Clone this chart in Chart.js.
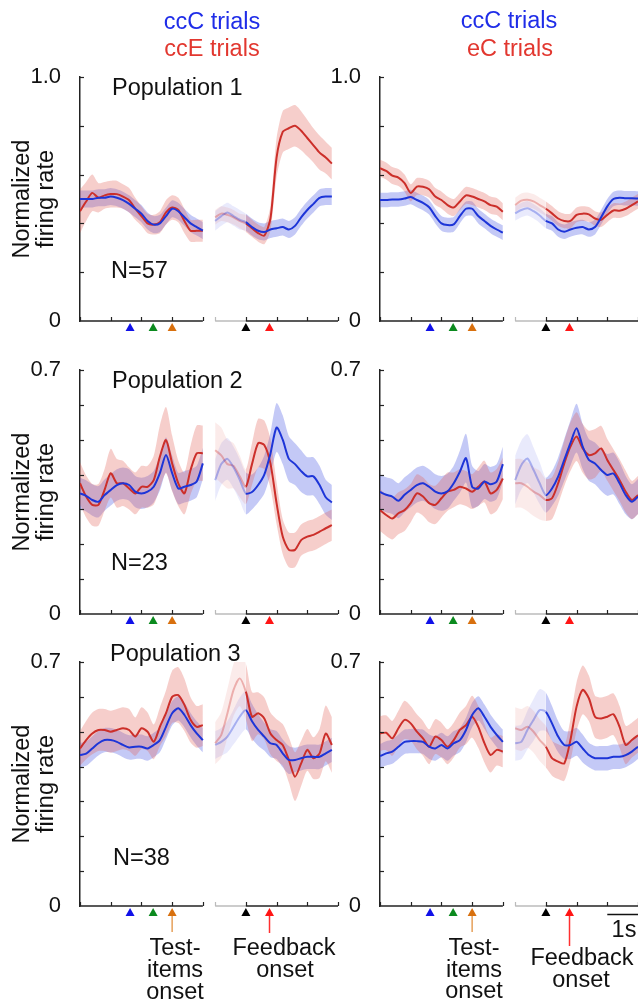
<!DOCTYPE html>
<html><head><meta charset="utf-8">
<script src="https://cdn.jsdelivr.net/npm/chart.js@4.4.0/dist/chart.umd.min.js"></script>
<style>
html,body{margin:0;padding:0;background:#fff}
body{width:638px;height:1003px;position:relative;overflow:hidden}
canvas{position:absolute}
svg{position:absolute;left:0;top:0}
svg text{font-family:"Liberation Sans",Arial,Helvetica,sans-serif;font-size:23.5px;fill:#111}
</style></head><body>
<canvas id="c1L" width="345" height="300" style="left:0;top:49px"></canvas>
<canvas id="c1R" width="338" height="300" style="left:300px;top:49px"></canvas>
<canvas id="c2L" width="345" height="300" style="left:0;top:342px"></canvas>
<canvas id="c2R" width="338" height="300" style="left:300px;top:342px"></canvas>
<canvas id="c3L" width="345" height="317" style="left:0;top:634px"></canvas>
<canvas id="c3R" width="338" height="317" style="left:300px;top:634px"></canvas>
<svg width="638" height="1003">
  <text x="212" y="29" text-anchor="middle" style="fill:#1f2de8">ccC trials</text>
  <text x="212" y="56" text-anchor="middle" style="fill:#e2372f">ccE trials</text>
  <text x="509" y="28" text-anchor="middle" style="fill:#1f2de8">ccC trials</text>
  <text x="510" y="56" text-anchor="middle" style="fill:#e2372f">eC trials</text>
  <text x="112" y="95">Population 1</text>
  <text x="112" y="388">Population 2</text>
  <text x="110" y="661">Population 3</text>
  <text x="111" y="278">N=57</text>
  <text x="111" y="570">N=23</text>
  <text x="113" y="865">N=38</text>
  <text x="175" y="955" text-anchor="middle">Test-</text>
  <text x="175" y="977" text-anchor="middle">items</text>
  <text x="175" y="999" text-anchor="middle">onset</text>
  <text x="284" y="955" text-anchor="middle">Feedback</text>
  <text x="285" y="977" text-anchor="middle">onset</text>
  <text x="474" y="955" text-anchor="middle">Test-</text>
  <text x="474" y="977" text-anchor="middle">items</text>
  <text x="474" y="998" text-anchor="middle">onset</text>
  <text x="582" y="965" text-anchor="middle">Feedback</text>
  <text x="581" y="987" text-anchor="middle">onset</text>
  <text x="624" y="937" text-anchor="middle">1s</text>
</svg>
<script>
// ---------- time grids (s) ----------
const tTest  = [-3.0,-2.8,-2.6,-2.4,-2.2,-2.0,-1.8,-1.6,-1.4,-1.2,-1.0,-0.8,-0.6,-0.4,-0.2,0.0,0.2,0.4,0.6,0.8,1.0];
const tFb20  = [-1.0,-0.8,-0.6,-0.4,-0.2,0.0,0.2,0.4,0.6,0.8,1.0,1.2,1.4,1.6,1.8,2.0,2.2,2.4,2.6,2.8];
const tFb21  = [-1.0,-0.8,-0.6,-0.4,-0.2,0.0,0.2,0.4,0.6,0.8,1.0,1.2,1.4,1.6,1.8,2.0,2.2,2.4,2.6,2.8,3.0];
const testTicks = [-3,-2,-1,0,1];
const fbTicks   = [-1,0,1,2,3];
const testEvents = [-1.37,-0.62,0];
const fbEvents   = [0,0.77];

// ---------- Population 1, left (ccC vs ccE) ----------
const p1_ccC_test = [.50,.50,.50,.505,.505,.51,.505,.495,.48,.46,.44,.41,.395,.40,.43,.46,.45,.425,.40,.385,.37];
const p1_ccC_test_err = [.035,.035,.035,.035,.035,.035,.035,.035,.035,.035,.035,.035,.035,.035,.035,.035,.035,.035,.035,.035,.035];
const p1_ccE_test = [.45,.49,.525,.505,.515,.52,.52,.51,.495,.46,.43,.40,.395,.405,.445,.465,.455,.41,.37,.37,.37];
const p1_ccE_test_err = [.09,.08,.075,.06,.055,.055,.055,.05,.05,.045,.04,.04,.04,.045,.05,.05,.05,.05,.045,.045,.045];
const p1_ccC_fb = [.41,.43,.445,.43,.415,.405,.385,.37,.365,.375,.38,.385,.375,.39,.425,.455,.48,.505,.51,.51];
const p1_ccC_fb_err = [.04,.04,.04,.04,.04,.035,.035,.035,.035,.035,.035,.035,.035,.035,.035,.035,.035,.035,.035,.035];
const p1_ccE_fb = [.425,.44,.435,.425,.41,.40,.38,.36,.35,.42,.67,.775,.79,.80,.78,.75,.72,.69,.67,.645];
const p1_ccE_fb_err = [.03,.03,.03,.03,.03,.035,.035,.035,.035,.05,.08,.085,.085,.085,.08,.075,.07,.07,.065,.065];
// ---------- Population 1, right (ccC vs eC) ----------
const p1r_ccC_test = [.496,.496,.498,.498,.502,.508,.496,.484,.466,.43,.40,.393,.396,.43,.46,.46,.43,.41,.39,.375,.362];
const p1r_ccC_test_err = [.03,.03,.03,.03,.03,.03,.03,.03,.03,.03,.03,.03,.03,.03,.03,.03,.03,.03,.03,.03,.03];
const p1r_eC_test = [.626,.615,.596,.588,.565,.525,.551,.55,.54,.51,.496,.475,.465,.49,.515,.51,.50,.49,.475,.469,.448];
const p1r_eC_test_err = [.035,.035,.035,.035,.035,.035,.035,.035,.035,.035,.035,.035,.035,.035,.035,.035,.035,.035,.035,.035,.035];
const p1r_ccC_fb = [.441,.455,.462,.45,.432,.41,.40,.375,.366,.375,.382,.385,.375,.385,.425,.47,.50,.505,.503,.503,.502];
const p1r_ccC_fb_err = [.03,.03,.03,.03,.03,.03,.03,.03,.03,.03,.03,.03,.03,.03,.03,.03,.03,.03,.03,.03,.03];
const p1r_eC_fb = [.475,.493,.497,.49,.475,.46,.441,.42,.41,.41,.435,.44,.437,.42,.415,.435,.453,.452,.46,.475,.49];
const p1r_eC_fb_err = [.03,.03,.03,.03,.03,.03,.03,.03,.03,.03,.03,.03,.03,.03,.03,.03,.03,.03,.03,.03,.03];
// ---------- Population 2, left ----------
const p2_ccC_test = [.346,.339,.327,.322,.341,.356,.370,.375,.370,.351,.346,.351,.365,.404,.456,.404,.360,.365,.370,.380,.432];
const p2_ccC_test_err = [.045,.045,.045,.045,.045,.045,.045,.045,.045,.045,.045,.045,.045,.05,.05,.05,.045,.045,.045,.045,.045];
const p2_ccE_test = [.375,.337,.313,.313,.356,.404,.375,.375,.36,.346,.365,.365,.384,.451,.499,.432,.375,.346,.413,.461,.461];
const p2_ccE_test_err = [.06,.06,.06,.06,.06,.07,.07,.065,.06,.06,.06,.06,.07,.09,.095,.08,.065,.06,.07,.08,.08];
const p2_ccC_fb = [.384,.43,.445,.42,.385,.346,.35,.37,.40,.46,.535,.50,.445,.43,.41,.395,.395,.37,.335,.32];
const p2_ccC_fb_err = [.06,.06,.06,.06,.06,.06,.05,.05,.055,.06,.07,.07,.065,.06,.06,.055,.055,.055,.05,.05];
const p2_ccE_fb = [.47,.455,.43,.425,.395,.365,.43,.49,.485,.432,.318,.222,.184,.184,.212,.222,.227,.236,.246,.255];
const p2_ccE_fb_err = [.08,.08,.07,.065,.06,.05,.06,.07,.07,.07,.06,.05,.05,.05,.045,.045,.045,.045,.045,.045];
// ---------- Population 2, right ----------
const p2r_ccC_test = [.35,.342,.337,.325,.342,.356,.37,.375,.365,.351,.346,.352,.375,.408,.447,.365,.36,.38,.372,.38,.43];
const p2r_ccC_test_err = [.05,.05,.05,.05,.05,.05,.05,.05,.05,.05,.05,.05,.05,.06,.07,.06,.05,.05,.05,.05,.05];
const p2r_eC_test = [.298,.284,.274,.289,.298,.318,.346,.337,.318,.313,.332,.351,.356,.365,.36,.351,.365,.38,.346,.356,.389];
const p2r_eC_test_err = [.06,.06,.06,.06,.06,.055,.055,.055,.055,.055,.055,.055,.05,.05,.05,.05,.055,.06,.06,.06,.06];
const p2r_ccC_fb = [.384,.427,.446,.413,.375,.341,.36,.394,.442,.49,.533,.48,.442,.432,.413,.399,.403,.375,.341,.322,.337];
const p2r_ccC_fb_err = [.07,.07,.07,.065,.06,.05,.05,.055,.06,.065,.07,.065,.06,.06,.06,.06,.06,.06,.055,.05,.05];
const p2r_eC_fb = [.375,.375,.365,.351,.341,.327,.332,.375,.432,.48,.509,.475,.456,.461,.475,.442,.413,.384,.351,.327,.341];
const p2r_eC_fb_err = [.07,.07,.07,.07,.07,.06,.06,.06,.065,.07,.07,.07,.07,.07,.065,.06,.06,.06,.06,.055,.055];
// ---------- Population 3, left ----------
const p3_ccC_test = [.433,.437,.452,.467,.476,.476,.471,.462,.455,.457,.457,.452,.462,.476,.514,.553,.567,.548,.519,.495,.476];
const p3_ccC_test_err = [.035,.035,.035,.035,.035,.035,.035,.035,.035,.035,.035,.035,.035,.035,.035,.035,.035,.035,.035,.035,.035];
const p3_ccE_test = [.452,.476,.495,.505,.505,.50,.505,.51,.505,.486,.51,.50,.471,.514,.553,.60,.605,.577,.534,.514,.519];
const p3_ccE_test_err = [.05,.055,.06,.06,.06,.06,.06,.06,.06,.055,.06,.055,.05,.055,.065,.075,.08,.075,.065,.06,.06];
const p3_ccC_fb = [.462,.471,.486,.514,.543,.562,.53,.505,.486,.467,.462,.438,.419,.419,.424,.428,.428,.428,.438,.448];
const p3_ccC_fb_err = [.04,.04,.045,.05,.055,.055,.05,.045,.04,.04,.04,.04,.04,.035,.035,.035,.035,.035,.035,.035];
const p3_ccE_fb = [.467,.491,.553,.62,.653,.615,.543,.553,.538,.495,.476,.462,.419,.371,.409,.448,.424,.438,.495,.462];
const p3_ccE_fb_err = [.06,.065,.07,.075,.08,.08,.07,.06,.06,.06,.06,.06,.065,.07,.065,.06,.06,.07,.08,.08];
// ---------- Population 3, right ----------
const p3r_ccC_test = [.43,.438,.443,.457,.471,.473,.473,.471,.457,.452,.462,.452,.467,.476,.505,.548,.567,.543,.514,.491,.471];
const p3r_ccC_test_err = [.035,.035,.035,.035,.035,.035,.035,.035,.035,.035,.035,.035,.035,.035,.035,.035,.035,.035,.035,.035,.035];
const p3r_eC_test = [.495,.497,.481,.51,.534,.524,.50,.481,.457,.486,.476,.457,.476,.505,.519,.543,.514,.467,.433,.448,.443];
const p3r_eC_test_err = [.05,.05,.05,.05,.055,.05,.05,.05,.05,.05,.05,.05,.05,.05,.055,.06,.06,.055,.05,.045,.045];
const p3r_ccC_fb = [.467,.471,.505,.534,.562,.557,.524,.486,.462,.462,.471,.452,.433,.424,.424,.424,.428,.428,.433,.443,.457];
const p3r_ccC_fb_err = [.05,.05,.055,.06,.06,.055,.05,.045,.04,.04,.04,.04,.035,.035,.035,.035,.035,.035,.035,.035,.035];
const p3r_eC_fb = [.51,.505,.514,.50,.476,.457,.424,.414,.409,.476,.572,.62,.596,.543,.538,.543,.55,.514,.462,.476,.49];
const p3r_eC_fb_err = [.06,.06,.06,.06,.06,.06,.05,.05,.05,.06,.07,.07,.065,.06,.06,.06,.06,.06,.055,.05,.05];

// ---------- layout of the broken time axis (unified x units, 1 unit = 1 s) ----------
const TEST_OFFSET = 3.0;   // test-items onset position
const FB_OFFSET = 5.4;     // start of solid part of feedback segment
const X_MAX = 8.4;
const PAD_TOP = 28;

const FONT = '"Liberation Sans", Arial, Helvetica, sans-serif';
const COL_BLUE = {line:'#1d35d8', band:'rgba(70,86,228,0.32)', lineFade:'rgba(29,53,216,0.32)', bandFade:'rgba(70,86,228,0.12)'};
const COL_RED  = {line:'#cc2f2a', band:'rgba(226,92,82,0.30)', lineFade:'rgba(204,47,42,0.32)', bandFade:'rgba(226,92,82,0.12)'};

function addSeries(ds, times, offset, mean, err, col, fadeAt, lineOrder) {
  const xs = times.map(t => t + offset);
  const lowIdx = ds.length;
  const fade = (v) => (c) => (fadeAt != null && c.p0.parsed.x < fadeAt - 1e-6) ? v : undefined;
  ds.push({data: xs.map((x,i)=>({x, y: mean[i]-err[i]})), borderWidth:0, borderColor:'rgba(0,0,0,0)', pointRadius:0, fill:false, tension:0.25, order:10});
  ds.push({data: xs.map((x,i)=>({x, y: mean[i]+err[i]})), borderWidth:0, borderColor:'rgba(0,0,0,0)', pointRadius:0, fill:lowIdx, backgroundColor:col.band, tension:0.25, order:10,
           segment:{backgroundColor: fade(col.bandFade)}});
  ds.push({data: xs.map((x,i)=>({x, y: mean[i]})), borderColor:col.line, borderWidth:2, pointRadius:0, fill:false, tension:0.25, order:lineOrder,
           segment:{borderColor: fade(col.lineFade)}});
}

const panelAxes = {
  id: 'panelAxes',
  afterDraw(chart) {
    const o = chart.options.plugins.panelAxes;
    const {ctx, chartArea: a, scales: {x, y}} = chart;
    const yb = a.bottom;
    ctx.save();
    ctx.lineCap = 'butt';
    // y inward ticks
    ctx.strokeStyle = '#222'; ctx.lineWidth = 1.2;
    y.ticks.forEach(t => {
      if (Math.abs(t.value) < 1e-9) return;
      const py = Math.round(y.getPixelForValue(t.value)) + 0.5;
      ctx.beginPath(); ctx.moveTo(a.left, py); ctx.lineTo(a.left + 4, py); ctx.stroke();
    });
    const px = v => x.getPixelForValue(v);
    // test segment axis
    ctx.lineWidth = 1.5; ctx.strokeStyle = '#222';
    ctx.beginPath(); ctx.moveTo(px(testTicks[0]+TEST_OFFSET), yb); ctx.lineTo(px(testTicks[testTicks.length-1]+TEST_OFFSET), yb); ctx.stroke();
    ctx.lineWidth = 1.2;
    testTicks.forEach(t => { const p = Math.round(px(t+TEST_OFFSET))+0.5; ctx.beginPath(); ctx.moveTo(p, yb); ctx.lineTo(p, yb-4); ctx.stroke(); });
    // feedback segment axis: grey part then black part
    ctx.lineWidth = 1.5; ctx.strokeStyle = '#bbbbbb';
    ctx.beginPath(); ctx.moveTo(px(fbTicks[0]+FB_OFFSET), yb); ctx.lineTo(px(FB_OFFSET), yb); ctx.stroke();
    ctx.lineWidth = 1.2;
    ctx.beginPath(); ctx.moveTo(Math.round(px(fbTicks[0]+FB_OFFSET))+0.5, yb); ctx.lineTo(Math.round(px(fbTicks[0]+FB_OFFSET))+0.5, yb-4); ctx.stroke();
    ctx.lineWidth = 1.5; ctx.strokeStyle = '#222';
    ctx.beginPath(); ctx.moveTo(px(FB_OFFSET), yb); ctx.lineTo(px(fbTicks[fbTicks.length-1]+FB_OFFSET), yb); ctx.stroke();
    ctx.lineWidth = 1.2;
    fbTicks.slice(1).forEach(t => { const p = Math.round(px(t+FB_OFFSET))+0.5; ctx.beginPath(); ctx.moveTo(p, yb); ctx.lineTo(p, yb-4); ctx.stroke(); });
    // event markers
    const marks = [];
    testEvents.forEach((t,i) => marks.push({p: px(t+TEST_OFFSET), c: ['#1010e8','#0b8a1e','#d8700e'][i], arrow: i===2 ? o.arrowTest : 0, ac:'#e6a05a'}));
    fbEvents.forEach((t,i) => marks.push({p: px(t+FB_OFFSET), c: ['#000000','#ff1515'][i], arrow: i===1 ? o.arrowFb : 0, ac:'#ff3030'}));
    marks.forEach(m => {
      if (m.arrow) {
        ctx.strokeStyle = m.ac; ctx.lineWidth = 1.5;
        ctx.beginPath(); ctx.moveTo(m.p, yb+9); ctx.lineTo(m.p, yb+m.arrow); ctx.stroke();
      }
      ctx.fillStyle = m.c;
      ctx.beginPath(); ctx.moveTo(m.p, yb+2); ctx.lineTo(m.p+4.5, yb+10); ctx.lineTo(m.p-4.5, yb+10); ctx.closePath(); ctx.fill();
    });
    // scale bar (1 s)
    if (o.scaleBar) {
      ctx.strokeStyle = '#111'; ctx.lineWidth = 1.5;
      ctx.beginPath(); ctx.moveTo(px(fbTicks[3]+FB_OFFSET), yb+8.5); ctx.lineTo(px(fbTicks[4]+FB_OFFSET)+2, yb+8.5); ctx.stroke();
    }
    ctx.restore();
  }
};

function makePanel(id, padBottom, padRight, yMax, yStep, yMaxLabel, showTitle, build, extra) {
  const datasets = [];
  build(datasets);
  return new Chart(document.getElementById(id), {
    type: 'line',
    data: {datasets},
    plugins: [panelAxes],
    options: {
      responsive: false, animation: false, devicePixelRatio: 1, events: [],
      layout: {padding: {top: PAD_TOP, bottom: padBottom, left: 0, right: padRight}},
      plugins: {legend:{display:false}, tooltip:{enabled:false}, filler:{drawTime:'beforeDatasetsDraw', propagate:false},
                panelAxes: Object.assign({arrowTest:0, arrowFb:0, scaleBar:false}, extra)},
      scales: {
        x: {type:'linear', min:0, max:X_MAX, display:false},
        y: {min:0, max:yMax,
            afterFit: s => { s.width = 80; },
            ticks: {stepSize:yStep, autoSkip:false, padding:11, color:'#111', font:{size:22, family:FONT},
                    callback: v => Math.abs(v - yMax) < 1e-9 ? yMaxLabel : (Math.abs(v) < 1e-9 ? '0' : '')},
            grid: {display:false},
            border: {display:true, color:'#222', width:1.5},
            title: {display:showTitle, text:['Normalized','firing rate'], color:'#111',
                    font:{size:23.5, family:FONT, lineHeight:1}, padding:{top:11, bottom:0}}}
      }
    }
  });
}

// Row 1
makePanel('c1L', 28, 7, 1.0, 0.2, '1.0', true, ds => {
  addSeries(ds, tTest, TEST_OFFSET, p1_ccE_test, p1_ccE_test_err, COL_RED, null, 1);
  addSeries(ds, tTest, TEST_OFFSET, p1_ccC_test, p1_ccC_test_err, COL_BLUE, null, 0);
  addSeries(ds, tFb20, FB_OFFSET, p1_ccE_fb, p1_ccE_fb_err, COL_RED, FB_OFFSET, 1);
  addSeries(ds, tFb20, FB_OFFSET, p1_ccC_fb, p1_ccC_fb_err, COL_BLUE, FB_OFFSET, 0);
});
makePanel('c1R', 28, 0, 1.0, 0.2, '1.0', false, ds => {
  addSeries(ds, tTest, TEST_OFFSET, p1r_eC_test, p1r_eC_test_err, COL_RED, null, 1);
  addSeries(ds, tTest, TEST_OFFSET, p1r_ccC_test, p1r_ccC_test_err, COL_BLUE, null, 0);
  addSeries(ds, tFb21, FB_OFFSET, p1r_eC_fb, p1r_eC_fb_err, COL_RED, FB_OFFSET, 1);
  addSeries(ds, tFb21, FB_OFFSET, p1r_ccC_fb, p1r_ccC_fb_err, COL_BLUE, FB_OFFSET, 0);
});
// Row 2
makePanel('c2L', 28, 7, 0.7, 0.1, '0.7', true, ds => {
  addSeries(ds, tTest, TEST_OFFSET, p2_ccE_test, p2_ccE_test_err, COL_RED, null, 1);
  addSeries(ds, tTest, TEST_OFFSET, p2_ccC_test, p2_ccC_test_err, COL_BLUE, null, 0);
  addSeries(ds, tFb20, FB_OFFSET, p2_ccE_fb, p2_ccE_fb_err, COL_RED, FB_OFFSET, 1);
  addSeries(ds, tFb20, FB_OFFSET, p2_ccC_fb, p2_ccC_fb_err, COL_BLUE, FB_OFFSET, 0);
});
makePanel('c2R', 28, 0, 0.7, 0.1, '0.7', false, ds => {
  addSeries(ds, tTest, TEST_OFFSET, p2r_eC_test, p2r_eC_test_err, COL_RED, null, 1);
  addSeries(ds, tTest, TEST_OFFSET, p2r_ccC_test, p2r_ccC_test_err, COL_BLUE, null, 0);
  addSeries(ds, tFb21, FB_OFFSET, p2r_eC_fb, p2r_eC_fb_err, COL_RED, FB_OFFSET, 1);
  addSeries(ds, tFb21, FB_OFFSET, p2r_ccC_fb, p2r_ccC_fb_err, COL_BLUE, FB_OFFSET, 0);
});
// Row 3
makePanel('c3L', 45, 7, 0.7, 0.1, '0.7', true, ds => {
  addSeries(ds, tTest, TEST_OFFSET, p3_ccE_test, p3_ccE_test_err, COL_RED, null, 1);
  addSeries(ds, tTest, TEST_OFFSET, p3_ccC_test, p3_ccC_test_err, COL_BLUE, null, 0);
  addSeries(ds, tFb20, FB_OFFSET, p3_ccE_fb, p3_ccE_fb_err, COL_RED, FB_OFFSET, 1);
  addSeries(ds, tFb20, FB_OFFSET, p3_ccC_fb, p3_ccC_fb_err, COL_BLUE, FB_OFFSET, 0);
}, {arrowTest:26, arrowFb:27});
makePanel('c3R', 45, 0, 0.7, 0.1, '0.7', false, ds => {
  addSeries(ds, tTest, TEST_OFFSET, p3r_eC_test, p3r_eC_test_err, COL_RED, null, 1);
  addSeries(ds, tTest, TEST_OFFSET, p3r_ccC_test, p3r_ccC_test_err, COL_BLUE, null, 0);
  addSeries(ds, tFb21, FB_OFFSET, p3r_eC_fb, p3r_eC_fb_err, COL_RED, FB_OFFSET, 1);
  addSeries(ds, tFb21, FB_OFFSET, p3r_ccC_fb, p3r_ccC_fb_err, COL_BLUE, FB_OFFSET, 0);
}, {arrowTest:26, arrowFb:40, scaleBar:true});
</script>
</body></html>
